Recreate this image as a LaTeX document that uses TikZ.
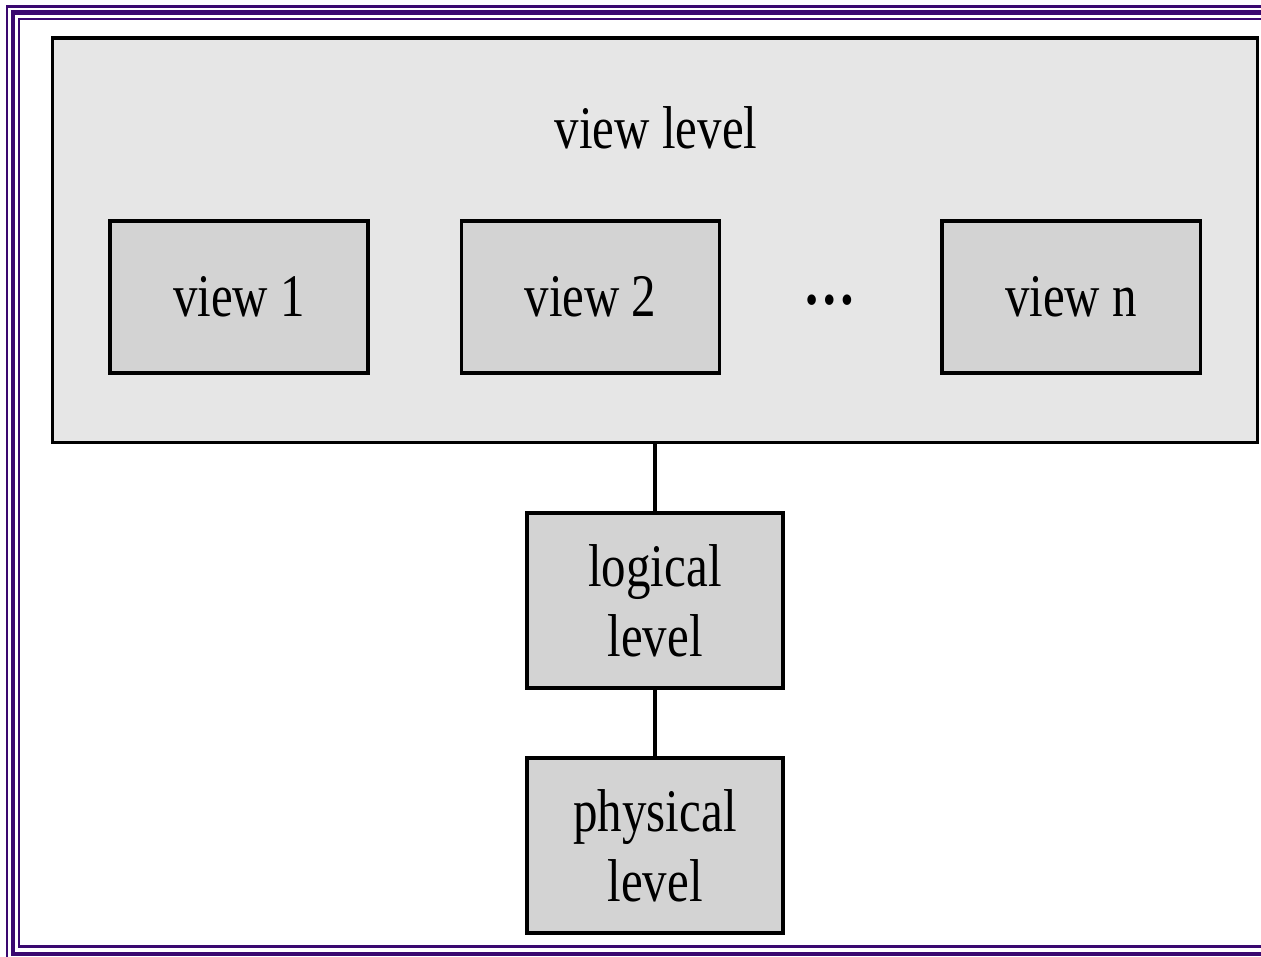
\documentclass[tikz,border=0pt]{standalone}
\usepackage{fontspec}
\setmainfont{Liberation Serif}[FakeStretch=0.81]
\definecolor{framepurple}{RGB}{58,8,112}
\definecolor{levelgray}{RGB}{230,230,230}
\definecolor{boxgray}{RGB}{211,211,211}

\begin{document}
\begin{tikzpicture}[x=0.025cm, y=-0.025cm,
  levelfont/.style={font=\fontsize{43}{50}\selectfont},
  levelbox/.style={draw, line width=2.2pt, fill=levelgray, inner sep=0pt, minimum width=30.1cm, minimum height=10.1cm},
  viewbox/.style={draw, line width=2.2pt, fill=boxgray, inner sep=0pt, levelfont, minimum width=6.45cm, minimum height=3.8cm},
  schemabox/.style={viewbox, align=center, minimum width=6.4cm, minimum height=4.375cm},
  frameline/.style={draw=framepurple}]

\useasboundingbox (0,0) rectangle (1261,956);
\clip (0,0) rectangle (1261,956);

% frame
\draw[frameline, line width=1.8pt] (7,6.5) rectangle (1278,962);
\draw[frameline, line width=3.2pt] (13,12.5) rectangle (1270,954);
\draw[frameline, line width=1.8pt] (19,19) rectangle (1263,946.5);

\node[levelbox] (viewlevel) at (655,240) {};
\node[levelfont] (viewleveltext) at (656,128) {view level};

\node[viewbox] (view1) at (239,297) {view 1};
\node[viewbox] (view2) at (590.5,297) {view 2};
\node[font=\fontsize{46}{50}\selectfont\bfseries] (dots) at (830,300) {…};
\node[viewbox] (viewn) at (1071,297) {view n};

\node[schemabox] (logical) at (655,600.5) {logical\\level};
\node[schemabox] (physical) at (655,845.5) {physical\\level};

\foreach \from/\to in {viewlevel/logical, logical/physical}
	\draw[line width=2.2pt] (\from.south) -- (\to.north);

\end{tikzpicture}
\end{document}
